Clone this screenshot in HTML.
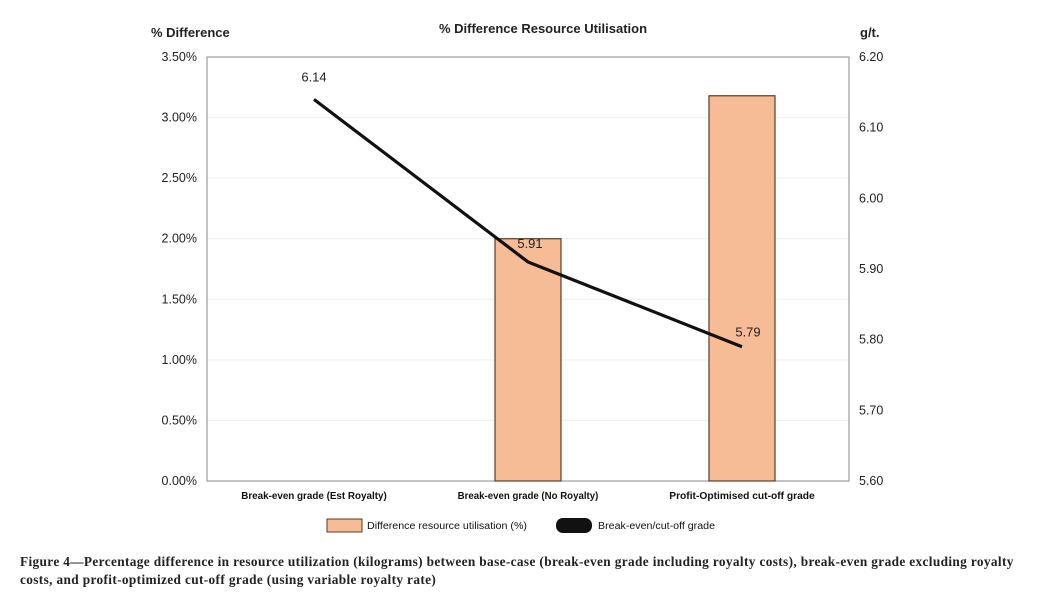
<!DOCTYPE html>
<html><head><meta charset="utf-8"><style>
body{margin:0;background:#fff;width:1041px;height:609px;overflow:hidden;font-family:"Liberation Sans",sans-serif}
svg{position:absolute;left:0;top:0}
.cap{position:absolute;left:20px;top:553px;width:1020px;font-family:"Liberation Serif",serif;font-weight:bold;font-size:13.3px;line-height:18px;color:#222;white-space:nowrap;letter-spacing:0.36px}
</style></head><body>
<svg width="1041" height="609" id="c"></svg>
<div class="cap">Figure 4—Percentage difference in resource utilization (kilograms) between base-case (break-even grade including royalty costs), break-even grade excluding royalty<br>costs, and profit-optimized cut-off grade (using variable royalty rate)</div>
<script>
const categories=["Break-even grade (Est Royalty)","Break-even grade (No Royalty)","Profit-Optimised cut-off grade"];
const barValues=[0,2.00,3.18];
const lineValues=[6.14,5.91,5.79];
const leftTicks=[0,0.5,1,1.5,2,2.5,3,3.5];
const rightTicks=[5.6,5.7,5.8,5.9,6.0,6.1,6.2];
const NS="http://www.w3.org/2000/svg",s=document.getElementById('c');
function el(t,a,txt){const e=document.createElementNS(NS,t);for(const k in a)e.setAttribute(k,a[k]);if(txt!==undefined)e.textContent=txt;s.appendChild(e);return e;}
const L=207,R=849,T=57,B=481;
const yL=v=>B-(v/3.5)*(B-T);
const yR=v=>B-((v-5.6)/0.6)*(B-T);
const cw=(R-L)/categories.length;
const xc=i=>L+cw*(i+0.5);
leftTicks.forEach(v=>{
 const g=el('line',{x1:L,x2:R,y1:yL(v),y2:yL(v),stroke:'#eeeeee','stroke-width':1});
 
 
 const t=el('text',{x:197,y:yL(v)+4,'text-anchor':'end','font-size':12.5,fill:'#222'},v.toFixed(2)+'%');
 
 
});
rightTicks.forEach(v=>{
 const t=el('text',{x:859,y:yR(v)+4,'font-size':12.5,fill:'#222'},v.toFixed(2));
 
 
});
const f=el('rect',{x:L,y:T,width:R-L,height:B-T,fill:'none',stroke:'#888','stroke-width':1});


barValues.forEach((v,i)=>{
 if(v<=0)return;
 const b=el('rect',{x:xc(i)-33,y:yL(v),width:66,height:B-yL(v),fill:'#f5bc96',stroke:'#5a3a2a','stroke-width':1.2});
 
 
});
categories.forEach((c,i)=>{
 const t=el('text',{x:xc(i),y:499,'text-anchor':'middle','font-size':10,fill:'#111','font-weight':'bold','textLength':c.length*4.85,'lengthAdjust':'spacingAndGlyphs'},c);
 
 
});
const pts=lineValues.map((v,i)=>xc(i)+','+yR(v)).join(' ');
const pl=el('polyline',{points:pts,fill:'none',stroke:'#111','stroke-width':3.2});


const off=[[0,-18],[2,-14],[6,-10]];
lineValues.forEach((v,i)=>{
 const t=el('text',{x:xc(i)+off[i][0],y:yR(v)+off[i][1],'text-anchor':'middle','font-size':13,fill:'#222'},v.toFixed(2));
 
 
});
let t=el('text',{x:543,y:33,'text-anchor':'middle','font-size':13,'font-weight':'bold',fill:'#222'},'% Difference Resource Utilisation');

t=el('text',{x:151,y:37,'font-size':13,'font-weight':'bold',fill:'#222'},'% Difference');

t=el('text',{x:860,y:37,'font-size':13,'font-weight':'bold',fill:'#222'},'g/t.');

let r=el('rect',{x:327,y:519,width:35,height:13,fill:'#f5bc96',stroke:'#5a3a2a','stroke-width':1});

t=el('text',{x:367,y:529,'font-size':10,fill:'#111','textLength':160,'lengthAdjust':'spacingAndGlyphs'},'Difference resource utilisation (%)');

r=el('rect',{x:556,y:518,width:36,height:15,rx:7,fill:'#111'});

t=el('text',{x:598,y:529,'font-size':10,fill:'#111','textLength':117,'lengthAdjust':'spacingAndGlyphs'},'Break-even/cut-off grade');

</script>
</body></html>
